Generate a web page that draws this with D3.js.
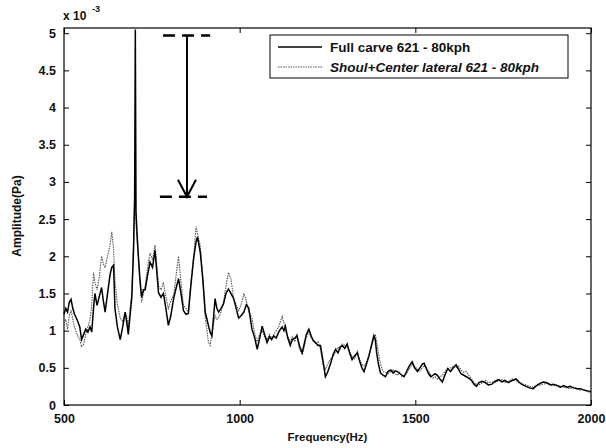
<!DOCTYPE html>
<html><head><meta charset="utf-8">
<script src="https://cdn.jsdelivr.net/npm/d3@7"></script>
<style>body{margin:0;background:#fff}svg{display:block}text{font-family:"Liberation Sans",Arial,sans-serif;font-weight:bold;fill:#111}</style>
</head><body><svg id="c" width="606" height="448"></svg>
<script>
const freq = [500,505,510,515,520,525,530,537,545,550,556,562,568,574,579,584,588,594,600,607,612,617,624,631,636,641,645,652,660,667,674,679,683,688,693,698,701,703,705,708,712,716,721,726,731,738,745,752,759,764,769,776,783,790,797,804,812,818,826,833,840,847,854,861,869,876,880,888,895,902,907,911,916,921,926,930,935,940,947,954,961,968,975,983,990,997,1004,1012,1019,1026,1035,1043,1050,1057,1064,1071,1078,1085,1091,1097,1104,1111,1116,1121,1126,1130,1137,1144,1150,1157,1163,1170,1178,1185,1190,1197,1204,1210,1216,1223,1230,1237,1244,1251,1259,1266,1273,1280,1286,1292,1299,1306,1313,1320,1327,1335,1342,1348,1354,1361,1368,1375,1382,1386,1390,1395,1401,1408,1415,1422,1430,1437,1443,1449,1456,1462,1468,1475,1482,1491,1498,1506,1513,1520,1525,1532,1538,1544,1550,1556,1563,1570,1577,1584,1592,1600,1608,1616,1623,1630,1638,1645,1652,1660,1667,1674,1681,1690,1699,1708,1718,1727,1737,1746,1755,1765,1776,1787,1797,1806,1815,1825,1835,1845,1855,1864,1874,1884,1893,1903,1913,1922,1932,1941,1950,1960,1970,1980,1990,2000];
const fullCarve = [1.22,1.30,1.25,1.38,1.42,1.30,1.22,1.15,1.05,0.88,0.95,1.02,0.98,1.05,0.98,1.30,1.50,1.34,1.45,1.58,1.40,1.25,1.50,1.75,1.85,1.88,1.30,1.05,0.88,1.05,1.25,1.10,0.95,1.20,1.45,2.10,2.78,5.05,2.60,2.30,1.97,1.70,1.45,1.55,1.55,1.75,1.92,1.85,2.08,1.80,1.51,1.45,1.50,1.30,1.07,1.20,1.43,1.55,1.70,1.50,1.27,1.22,1.23,1.60,1.97,2.20,2.26,2.05,1.70,1.25,1.15,1.07,0.98,0.93,1.20,1.43,1.30,1.25,1.30,1.36,1.50,1.56,1.50,1.43,1.30,1.17,1.20,1.25,1.35,1.30,1.02,0.90,0.75,0.90,1.06,0.95,0.84,0.92,0.88,0.93,0.90,0.98,1.02,1.05,1.00,1.06,0.90,0.80,0.88,0.90,0.93,0.80,0.70,0.85,0.95,1.02,0.92,0.86,0.84,0.80,0.80,0.60,0.38,0.45,0.56,0.68,0.75,0.70,0.78,0.80,0.76,0.82,0.70,0.61,0.66,0.70,0.58,0.50,0.45,0.55,0.66,0.80,0.93,0.88,0.70,0.55,0.43,0.40,0.38,0.45,0.47,0.43,0.46,0.45,0.42,0.40,0.38,0.45,0.52,0.58,0.50,0.45,0.50,0.55,0.56,0.48,0.42,0.38,0.40,0.42,0.40,0.35,0.31,0.40,0.49,0.45,0.50,0.54,0.48,0.42,0.40,0.38,0.36,0.33,0.28,0.25,0.30,0.32,0.30,0.27,0.28,0.32,0.34,0.31,0.33,0.30,0.33,0.35,0.30,0.27,0.25,0.23,0.22,0.26,0.29,0.31,0.30,0.27,0.28,0.26,0.24,0.26,0.24,0.25,0.23,0.22,0.22,0.20,0.19,0.18];
const shoulCenter = [1.10,1.15,1.02,1.20,1.28,1.15,1.05,0.95,0.88,0.78,0.82,0.95,1.05,1.15,1.35,1.78,1.65,1.55,1.70,2.00,1.90,1.85,2.00,2.15,2.33,2.10,1.68,1.35,1.17,1.12,1.25,1.18,1.05,1.30,1.48,2.20,2.80,2.60,2.45,2.20,2.00,1.65,1.38,1.50,1.60,1.85,2.05,1.95,2.15,1.90,1.60,1.55,1.65,1.45,1.30,1.40,1.48,1.70,2.00,1.65,1.34,1.30,1.25,1.65,2.00,2.40,2.30,2.14,1.70,1.17,1.00,0.85,0.80,0.95,1.10,1.20,1.15,1.17,1.25,1.38,1.60,1.78,1.70,1.43,1.35,1.27,1.35,1.50,1.40,1.25,1.17,0.95,0.85,0.95,1.00,0.92,0.88,0.95,0.90,0.95,1.00,1.05,1.12,1.19,1.10,1.00,0.92,0.85,0.92,0.85,0.96,0.75,0.68,0.80,0.92,0.98,0.90,0.88,0.82,0.85,0.75,0.55,0.48,0.55,0.62,0.65,0.72,0.78,0.75,0.82,0.80,0.78,0.72,0.65,0.62,0.72,0.60,0.55,0.52,0.58,0.68,0.78,0.90,0.95,0.85,0.70,0.55,0.45,0.44,0.42,0.45,0.48,0.42,0.40,0.44,0.38,0.40,0.42,0.48,0.55,0.52,0.48,0.46,0.50,0.53,0.50,0.45,0.40,0.36,0.38,0.35,0.38,0.40,0.45,0.48,0.50,0.52,0.50,0.52,0.47,0.44,0.45,0.40,0.35,0.30,0.28,0.27,0.30,0.33,0.30,0.31,0.30,0.33,0.34,0.30,0.32,0.35,0.33,0.29,0.28,0.27,0.25,0.24,0.26,0.27,0.28,0.29,0.28,0.26,0.27,0.25,0.24,0.23,0.22,0.24,0.22,0.20,0.21,0.18,0.17];
const xTicks = [500,1000,1500,2000];
const yTicks = [0,0.5,1,1.5,2,2.5,3,3.5,4,4.5,5];
const yTickLabels = ["0","0.5","1","1.5","2","2.5","3","3.5","4","4.5","5"];
const seriesNames = ["Full carve 621 - 80kph","Shoul+Center lateral 621 - 80kph"];
const arrowFreq = 350 + 500, arrowFrom = 4.97, arrowTo = 2.8, dashFrom = [782, 773], dashTo = [916, 907];

const svg = d3.select("#c");
const L=64,R=591,T=28,B=405;
const x = d3.scaleLinear().domain([500,2000]).range([L,R]);
const y = d3.scaleLinear().domain([0,5.07]).range([B,T]);

svg.append("rect").attr("x",L).attr("y",T).attr("width",R-L).attr("height",B-T).attr("fill","none").attr("stroke","#000").attr("stroke-width",1.2);

const gBot = svg.append("g").attr("transform",`translate(0,${B})`).call(d3.axisBottom(x).tickValues(xTicks).tickSize(-5).tickPadding(9).tickFormat(d3.format("d")));
const gTop = svg.append("g").attr("transform",`translate(0,${T})`).call(d3.axisTop(x).tickValues(xTicks).tickSize(-5).tickFormat(""));
const gLeft = svg.append("g").attr("transform",`translate(${L},0)`).call(d3.axisLeft(y).tickValues(yTicks).tickSize(-5).tickPadding(8).tickFormat((d,i)=>yTickLabels[i]));
const gRight = svg.append("g").attr("transform",`translate(${R},0)`).call(d3.axisRight(y).tickValues(yTicks).tickSize(-5).tickFormat(""));
[gBot,gTop,gLeft,gRight].forEach(g=>{g.select(".domain").remove();g.selectAll("line").attr("stroke","#000");g.selectAll("text").attr("font-size",12.5).attr("font-family","Liberation Sans, Arial").attr("font-weight","bold").attr("fill","#111");});

const data1 = freq.map((f,i)=>[f,fullCarve[i]]);
const data2 = freq.map((f,i)=>[f,shoulCenter[i]]);
const line = d3.line().x(d=>x(d[0])).y(d=>y(d[1]));
svg.append("path").datum(data2).attr("d",line).attr("fill","none").attr("stroke","#555").attr("stroke-width",1.1).attr("stroke-dasharray","1.5,1");
svg.append("path").datum(data1).attr("d",line).attr("fill","none").attr("stroke","#000").attr("stroke-width",1.5);

const ann = svg.append("g");
[[arrowFrom,0],[arrowTo,1]].forEach(([v,i])=>{
  ann.append("line").attr("x1",x(dashFrom[i])).attr("x2",x(dashTo[i])).attr("y1",y(v)).attr("y2",y(v)).attr("stroke","#000").attr("stroke-width",2.5).attr("stroke-dasharray","12,7");
});
ann.append("line").attr("x1",x(arrowFreq)).attr("x2",x(arrowFreq)).attr("y1",y(arrowFrom)).attr("y2",y(arrowTo)).attr("stroke","#000").attr("stroke-width",2);
ann.append("path").attr("d",`M${x(arrowFreq)-9},${y(arrowTo)-17}L${x(arrowFreq)},${y(arrowTo)}L${x(arrowFreq)+9},${y(arrowTo)-17}`).attr("fill","none").attr("stroke","#000").attr("stroke-width",2);

const lg = svg.append("g");
lg.append("rect").attr("x",270).attr("y",35).attr("width",298).attr("height",43).attr("fill","#fff").attr("stroke","#000").attr("stroke-width",1);
lg.append("line").attr("x1",278).attr("x2",322).attr("y1",47).attr("y2",47).attr("stroke","#000").attr("stroke-width",1.3);
lg.append("line").attr("x1",278).attr("x2",322).attr("y1",67).attr("y2",67).attr("stroke","#555").attr("stroke-width",1.1).attr("stroke-dasharray","1.5,1");
lg.append("text").attr("x",330).attr("y",52).attr("font-size",13.5).text(seriesNames[0]);
lg.append("text").attr("x",330).attr("y",72).attr("font-size",13.5).attr("font-style","italic").text(seriesNames[1]);

svg.append("text").attr("x",63).attr("y",20).attr("font-size",12).text("x 10");
svg.append("text").attr("x",92).attr("y",12).attr("font-size",9).text("-3");
svg.append("text").attr("x",(L+R)/2).attr("y",441).attr("text-anchor","middle").attr("font-size",11.5).text("Frequency(Hz)");
svg.append("text").attr("transform","translate(21,216) rotate(-90)").attr("text-anchor","middle").attr("font-size",12).text("Amplitude(Pa)");
</script></body></html>
